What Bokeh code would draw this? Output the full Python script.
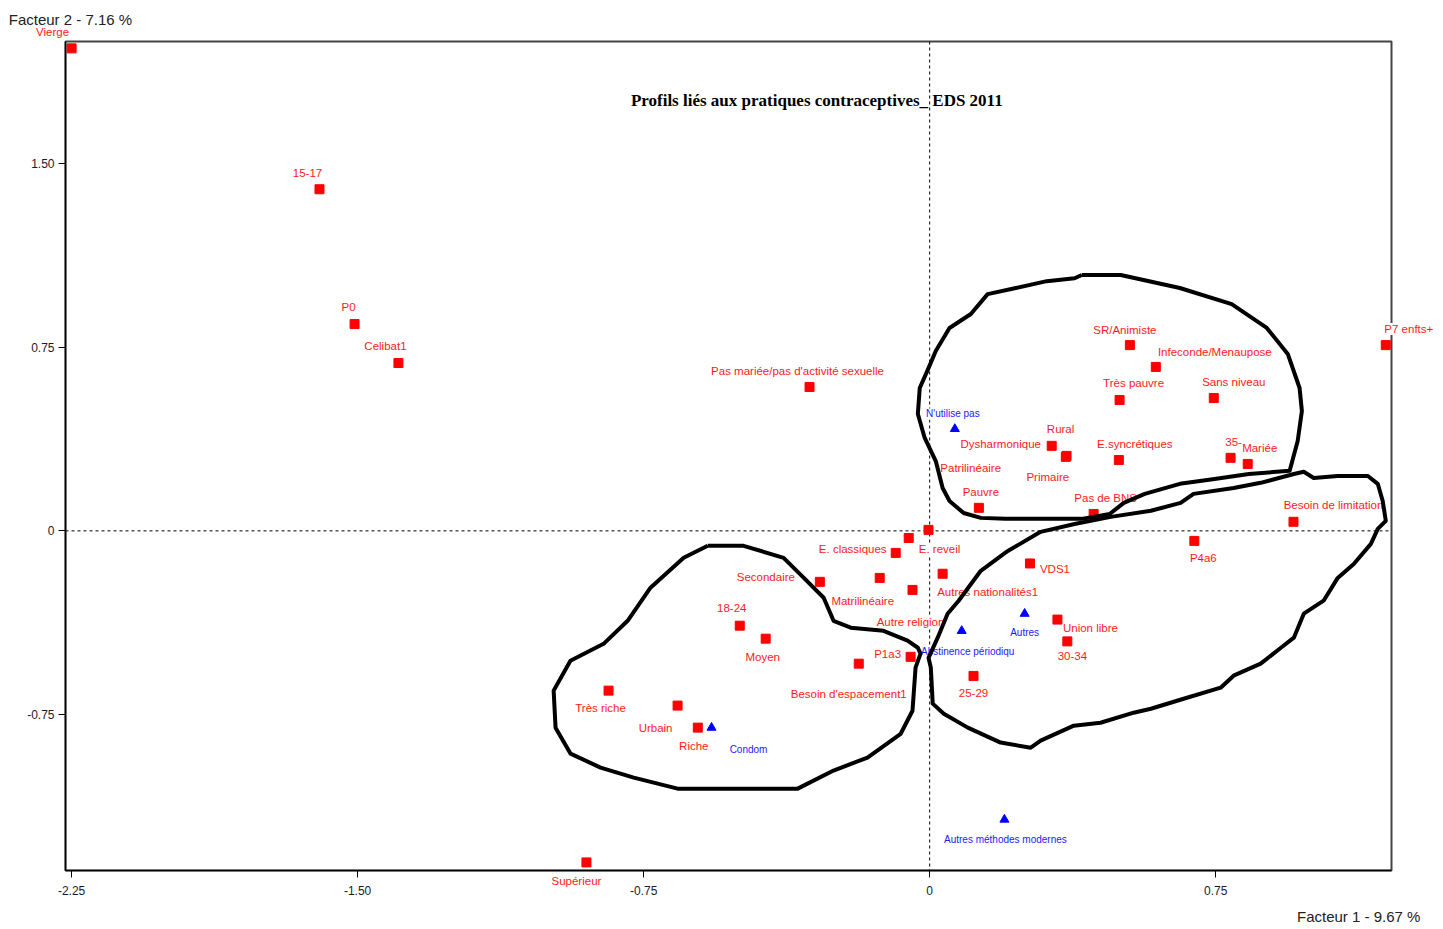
from bokeh.plotting import figure
from bokeh.models import Range1d, FixedTicker, Span, Label, LabelSet, ColumnDataSource
from bokeh.embed import file_html
from bokeh.resources import INLINE
from bokeh.core.properties import value

# ---------------- data ----------------
mod_labels = ["Vierge", "15-17", "P0", "Celibat1", "Pas mariée/pas d'activité sexuelle",
              "P7 enfts+", "SR/Animiste", "Infeconde/Menaupose", "Très pauvre", "Sans niveau",
              "Dysharmonique", "Rural", "Primaire", "Patrilinéaire", "E.syncrétiques",
              "35-", "Mariée", "Pauvre", "Pas de BNS", "Besoin de limitation",
              "E. classiques", "E. reveil", "Secondaire", "Matrilinéaire", "Autres nationalités1",
              "Autre religion", "18-24", "Moyen", "P1a3", "Besoin d'espacement1",
              "Très riche", "Urbain", "Riche", "VDS1", "P4a6",
              "Union libre", "30-34", "25-29", "Supérieur"]
mod_x = [-2.250, -1.600, -1.508, -1.393, -0.315,
         1.196, 0.525, 0.593, 0.498, 0.745,
         0.320, 0.359, 0.357, -0.055, 0.496,
         0.789, 0.834, 0.129, 0.430, 0.954,
         -0.089, -0.003, -0.288, -0.131, 0.034,
         -0.045, -0.498, -0.430, -0.050, -0.186,
         -0.842, -0.661, -0.608, 0.263, 0.694,
         0.335, 0.361, 0.115, -0.900]
mod_y = [1.969, 1.394, 0.844, 0.685, 0.587,
         0.758, 0.758, 0.669, 0.534, 0.542,
         0.347, 0.306, 0.302, -0.029, 0.289,
         0.298, 0.273, 0.094, 0.069, 0.037,
         -0.090, 0.004, -0.208, -0.192, -0.175,
         -0.241, -0.387, -0.440, -0.514, -0.542,
         -0.652, -0.713, -0.803, -0.133, -0.041,
         -0.362, -0.451, -0.592, -1.353]

meth_labels = ["N'utilise pas", "Condom", "Abstinence périodiqu", "Autres", "Autres méthodes modernes"]
meth_x = [0.066, -0.572, 0.084, 0.249, 0.196]
meth_y = [0.416, -0.803, -0.408, -0.338, -1.178]

# hand-drawn cluster outlines (data units)
zone1_x = [0.399, 0.501, 0.656, 0.792, 0.884, 0.939, 0.970, 0.976, 0.965, 0.944, 0.837, 0.747,
           0.656, 0.564, 0.509, 0.472, 0.399, 0.288, 0.199, 0.134, 0.089, 0.052, 0.034, 0.016,
           -0.013, -0.031, -0.026, -0.003, 0.016, 0.052, 0.108, 0.152, 0.226, 0.307, 0.380]
zone1_y = [1.044, 1.044, 0.991, 0.925, 0.828, 0.722, 0.583, 0.489, 0.367, 0.245, 0.232, 0.212,
           0.192, 0.151, 0.114, 0.069, 0.049, 0.049, 0.049, 0.053, 0.073, 0.122, 0.175, 0.285,
           0.379, 0.477, 0.583, 0.664, 0.734, 0.828, 0.885, 0.966, 0.991, 1.019, 1.031]

zone2_x = [0.205, 0.291, 0.383, 0.475, 0.580, 0.658, 0.692, 0.797, 0.868, 0.955, 0.981, 1.007,
           1.070, 1.149, 1.175, 1.188, 1.196, 1.175, 1.157, 1.112, 1.070, 1.033, 0.981, 0.955,
           0.921, 0.868, 0.797, 0.763, 0.666, 0.580, 0.535, 0.448, 0.378, 0.291, 0.265, 0.186,
           0.100, 0.037, 0.008, 0.003, -0.003, 0.021, 0.047, 0.076, 0.134]
zone2_y = [-0.082, -0.004, 0.029, 0.057, 0.082, 0.114, 0.151, 0.175, 0.196, 0.232, 0.241, 0.216,
           0.224, 0.224, 0.192, 0.122, 0.041, 0.008, -0.053, -0.135, -0.192, -0.285, -0.338, -0.436,
           -0.477, -0.542, -0.591, -0.640, -0.685, -0.726, -0.742, -0.783, -0.795, -0.856, -0.885,
           -0.864, -0.803, -0.746, -0.705, -0.558, -0.518, -0.436, -0.338, -0.285, -0.163]

zone3_x = [-0.582, -0.488, -0.383, -0.330, -0.278, -0.252, -0.207, -0.121, -0.058, -0.031, -0.024,
           -0.037, -0.045, -0.076, -0.163, -0.252, -0.346, -0.469, -0.661, -0.776, -0.863, -0.942,
           -0.981, -0.986, -0.942, -0.855, -0.792, -0.732, -0.645]
zone3_y = [-0.061, -0.061, -0.110, -0.192, -0.273, -0.367, -0.395, -0.408, -0.448, -0.477, -0.501,
           -0.558, -0.734, -0.828, -0.925, -0.978, -1.052, -1.052, -1.052, -1.007, -0.966, -0.909,
           -0.803, -0.652, -0.530, -0.461, -0.367, -0.232, -0.110]

x_ticks = [-2.25, -1.5, -0.75, 0, 0.75]
x_tick_labels = ["-2.25", "-1.50", "-0.75", "0", "0.75"]
y_ticks = [-0.75, 0, 0.75, 1.5]
y_tick_labels = ["-0.75", "0", "0.75", "1.50"]

chart_title = "Profils liés aux pratiques contraceptives_ EDS 2011"
x_title = "Facteur 1 - 9.67 %"
y_title = "Facteur 2 - 7.16 %"

# label placement (pixel offsets from the marker: dx right, dy down)
mod_offsets = {
    "Vierge": (-19, -16), "15-17": (-12, -16), "P0": (-6, -17), "Celibat1": (-13, -17),
    "Pas mariée/pas d'activité sexuelle": (-12, -16), "P7 enfts+": (23, -16),
    "SR/Animiste": (-5, -15), "Infeconde/Menaupose": (59, -15), "Très pauvre": (14, -17),
    "Sans niveau": (20, -16), "Dysharmonique": (-51, -2), "Rural": (-6, -27),
    "Primaire": (-18, 20), "Patrilinéaire": (62, -70), "E.syncrétiques": (16, -16),
    "35-": (3, -16), "Mariée": (12, -16), "Pauvre": (2, -16), "Pas de BNS": (12, -16),
    "Besoin de limitation": (40, -17), "E. classiques": (-43, -4), "E. reveil": (11, 19),
    "Secondaire": (-54, -5), "Matrilinéaire": (-17, 23), "Autres nationalités1": (45, 18),
    "Autre religion": (-2, 32), "18-24": (-8, -18), "Moyen": (-3, 18), "P1a3": (-23, -3),
    "Besoin d'espacement1": (-10, 30), "Très riche": (-8, 17), "Urbain": (-22, 22),
    "Riche": (-4, 18), "VDS1": (25, 6), "P4a6": (9, 17), "Union libre": (33, 8),
    "30-34": (5, 15), "25-29": (0, 17), "Supérieur": (-10, 19),
}
meth_offsets = {
    "N'utilise pas": (-2, -15), "Condom": (37, 22), "Abstinence périodiqu": (6, 21),
    "Autres": (0, 19), "Autres méthodes modernes": (1, 20),
}
# labels that lie outside the frame go to a side panel (so they are not clipped)
outside_panel = {"Vierge": "above", "P7 enfts+": "above", "Supérieur": "below"}

SANS = "Liberation Sans"
RED, BLUE = "#ff1a1a", "#1a1aff"

p = figure(width=1440, height=927, title=None,
           x_range=Range1d(-2.266, 1.211), y_range=Range1d(-1.386, 1.997),
           output_backend="svg", toolbar_location=None,
           min_border_left=65, min_border_right=49, min_border_top=40, min_border_bottom=57)
p.grid.visible = False
p.background_fill_color = "white"
p.border_fill_color = "white"
p.outline_line_color = "#444444"
p.outline_line_width = 2

for ax, ticks, labs in ((p.xaxis, x_ticks, x_tick_labels), (p.yaxis, y_ticks, y_tick_labels)):
    ax.ticker = FixedTicker(ticks=ticks)
    ax.major_label_overrides = {t: l for t, l in zip(ticks, labs)}
    ax.minor_tick_line_color = None
    ax.major_tick_in = 0
    ax.major_tick_out = 7
    ax.major_tick_line_color = "black"
    ax.axis_line_color = "black"
    ax.axis_line_width = 1.5
    ax.major_label_text_font = SANS
    ax.major_label_text_font_size = "12px"
    ax.major_label_text_color = "#1a1a2e"
p.xaxis.major_label_standoff = 8
p.yaxis.major_label_standoff = 4

# dashed origin lines
p.add_layout(Span(location=0, dimension="height", line_color="black", line_width=1,
                  line_dash="3 3", level="underlay"))
p.add_layout(Span(location=0, dimension="width", line_color="black", line_width=1,
                  line_dash="3 3", level="underlay"))

# markers
p.scatter(mod_x, mod_y, marker="square", size=9, fill_color="red", line_color="red")
p.scatter(meth_x, meth_y, marker="triangle", size=9, fill_color="blue", line_color="blue")

# axis titles (side panels: not clipped) and chart title (inside the frame)
p.add_layout(Label(x=-2.253, y=2.087, text=y_title, text_align="center", text_baseline="middle",
                   text_font=SANS, text_font_size="15px", text_color="#222222"), "above")
p.add_layout(Label(x=1.125, y=-1.572, text=x_title, text_align="center", text_baseline="middle",
                   text_font=SANS, text_font_size="15px", text_color="#222222"), "below")
p.add_layout(Label(x=-0.296, y=1.757, text=chart_title, text_align="center", text_baseline="middle",
                   text_font="Liberation Serif", text_font_style="bold", text_font_size="17px",
                   text_color="black"))

# point labels inside the frame
def label_source(names, xs, ys, offs):
    keep = [i for i, n in enumerate(names) if n not in outside_panel]
    return ColumnDataSource(dict(x=[xs[i] for i in keep], y=[ys[i] for i in keep],
                                 t=[names[i] for i in keep],
                                 dx=[offs[names[i]][0] for i in keep],
                                 dy=[-offs[names[i]][1] for i in keep]))

for names, xs, ys, offs, color, size in ((mod_labels, mod_x, mod_y, mod_offsets, RED, "11.5px"),
                                          (meth_labels, meth_x, meth_y, meth_offsets, BLUE, "10px")):
    p.add_layout(LabelSet(x="x", y="y", text="t", source=label_source(names, xs, ys, offs),
                          x_offset="dx", y_offset="dy", text_align="center", text_baseline="middle",
                          text_font=value(SANS), text_font_size=size, text_color=color,
                          background_fill_color="white"))

# point labels that spill outside the frame
for name, xv, yv in zip(mod_labels, mod_x, mod_y):
    if name in outside_panel:
        dx, dy = mod_offsets[name]
        p.add_layout(Label(x=xv, y=yv, text=name, x_offset=dx, y_offset=-dy,
                           text_align="center", text_baseline="middle",
                           text_font=SANS, text_font_size="11.5px", text_color=RED,
                           background_fill_color="white"), outside_panel[name])

# hand-drawn cluster outlines, drawn over everything
for zx, zy in ((zone1_x, zone1_y), (zone2_x, zone2_y), (zone3_x, zone3_y)):
    r = p.line(zx + zx[:1], zy + zy[:1], line_color="black", line_width=4, line_join="round")
    r.level = "overlay"

open("out.html", "w").write(file_html(p, INLINE))
